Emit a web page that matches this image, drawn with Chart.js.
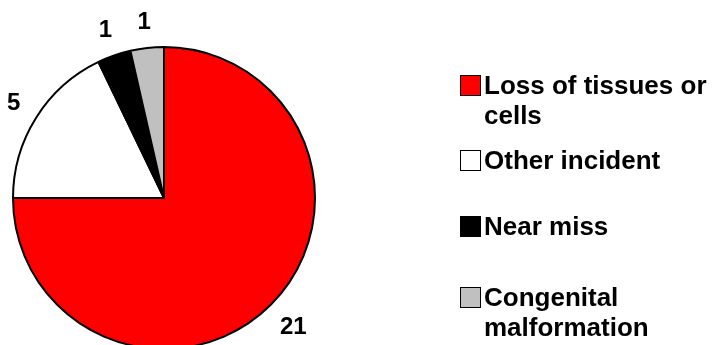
<!DOCTYPE html>
<html>
<head>
<meta charset="utf-8">
<script src="https://cdn.jsdelivr.net/npm/chart.js@4.4.1/dist/chart.umd.min.js"></script>
<style>
  html, body { margin: 0; padding: 0; background: #fff; overflow: hidden; }
  #wrap { position: relative; width: 712px; height: 345px; overflow: hidden; }
  #pieChart { position: absolute; left: 0; top: 0; }
  .item { position: absolute; left: 460px; width: 252px; display: flex; align-items: flex-start;
          font: bold 26px "Liberation Sans", Arial, sans-serif; line-height: 30px; color: #000; }
  .item .box { width: 19px; height: 19px; border: 1px solid #000; margin-top: 5px; margin-right: 3px; flex: none; }
  .item:nth-child(2) { top: 70px; }
  .item:nth-child(3) { top: 145px; }
  .item:nth-child(4) { top: 211px; }
  .item:nth-child(5) { top: 282px; }
</style>
</head>
<body>
<div id="wrap">
  <canvas id="pieChart" width="712" height="400"></canvas>
</div>
<script>
const categories = ['Loss of tissues or cells', 'Other incident', 'Near miss', 'Congenital malformation'];
const counts = [21, 5, 1, 1];
const colors = ['#ff0000', '#ffffff', '#000000', '#c0c0c0'];

// value labels outside the slices
const outsideLabels = {
    id: 'outsideLabels',
    afterDatasetsDraw(chart) {
        const ctx = chart.ctx;
        const meta = chart.getDatasetMeta(0);
        ctx.save();
        ctx.font = 'bold 24px "Liberation Sans", Arial, sans-serif';
        ctx.fillStyle = '#000';
        ctx.textAlign = 'center';
        ctx.textBaseline = 'middle';
        meta.data.forEach((arc, i) => {
            const p = arc.getProps(['x', 'y', 'startAngle', 'endAngle', 'outerRadius'], true);
            const mid = (p.startAngle + p.endAngle) / 2;
            const txt = String(counts[i]);
            const hw = ctx.measureText(txt).width / 2;
            const c = Math.cos(mid), s = Math.sin(mid);
            const d = p.outerRadius + 16 + Math.abs(c) * hw + Math.abs(s) * 9;
            ctx.fillText(txt, p.x + c * d, p.y + s * d);
        });
        ctx.restore();
    }
};

const ctx1 = document.getElementById('pieChart').getContext('2d');
new Chart(ctx1, {
    type: 'pie',
    data: {
        labels: categories,
        datasets: [{
            data: counts,
            backgroundColor: colors,
            borderColor: '#000',
            borderWidth: 2
        }]
    },
    options: {
        responsive: false,
        animation: false,
        layout: { padding: { left: 12, top: 46, right: 396, bottom: 50 } },
        plugins: {
            legend: { display: false },
            tooltip: { enabled: false }
        }
    },
    plugins: [outsideLabels]
});

// legend
const wrap = document.getElementById('wrap');
categories.forEach((name, i) => {
    const item = document.createElement('div');
    item.className = 'item';
    const box = document.createElement('span');
    box.className = 'box';
    box.style.background = colors[i];
    const txt = document.createElement('span');
    txt.textContent = name;
    item.appendChild(box);
    item.appendChild(txt);
    wrap.appendChild(item);
});
</script>
</body>
</html>
